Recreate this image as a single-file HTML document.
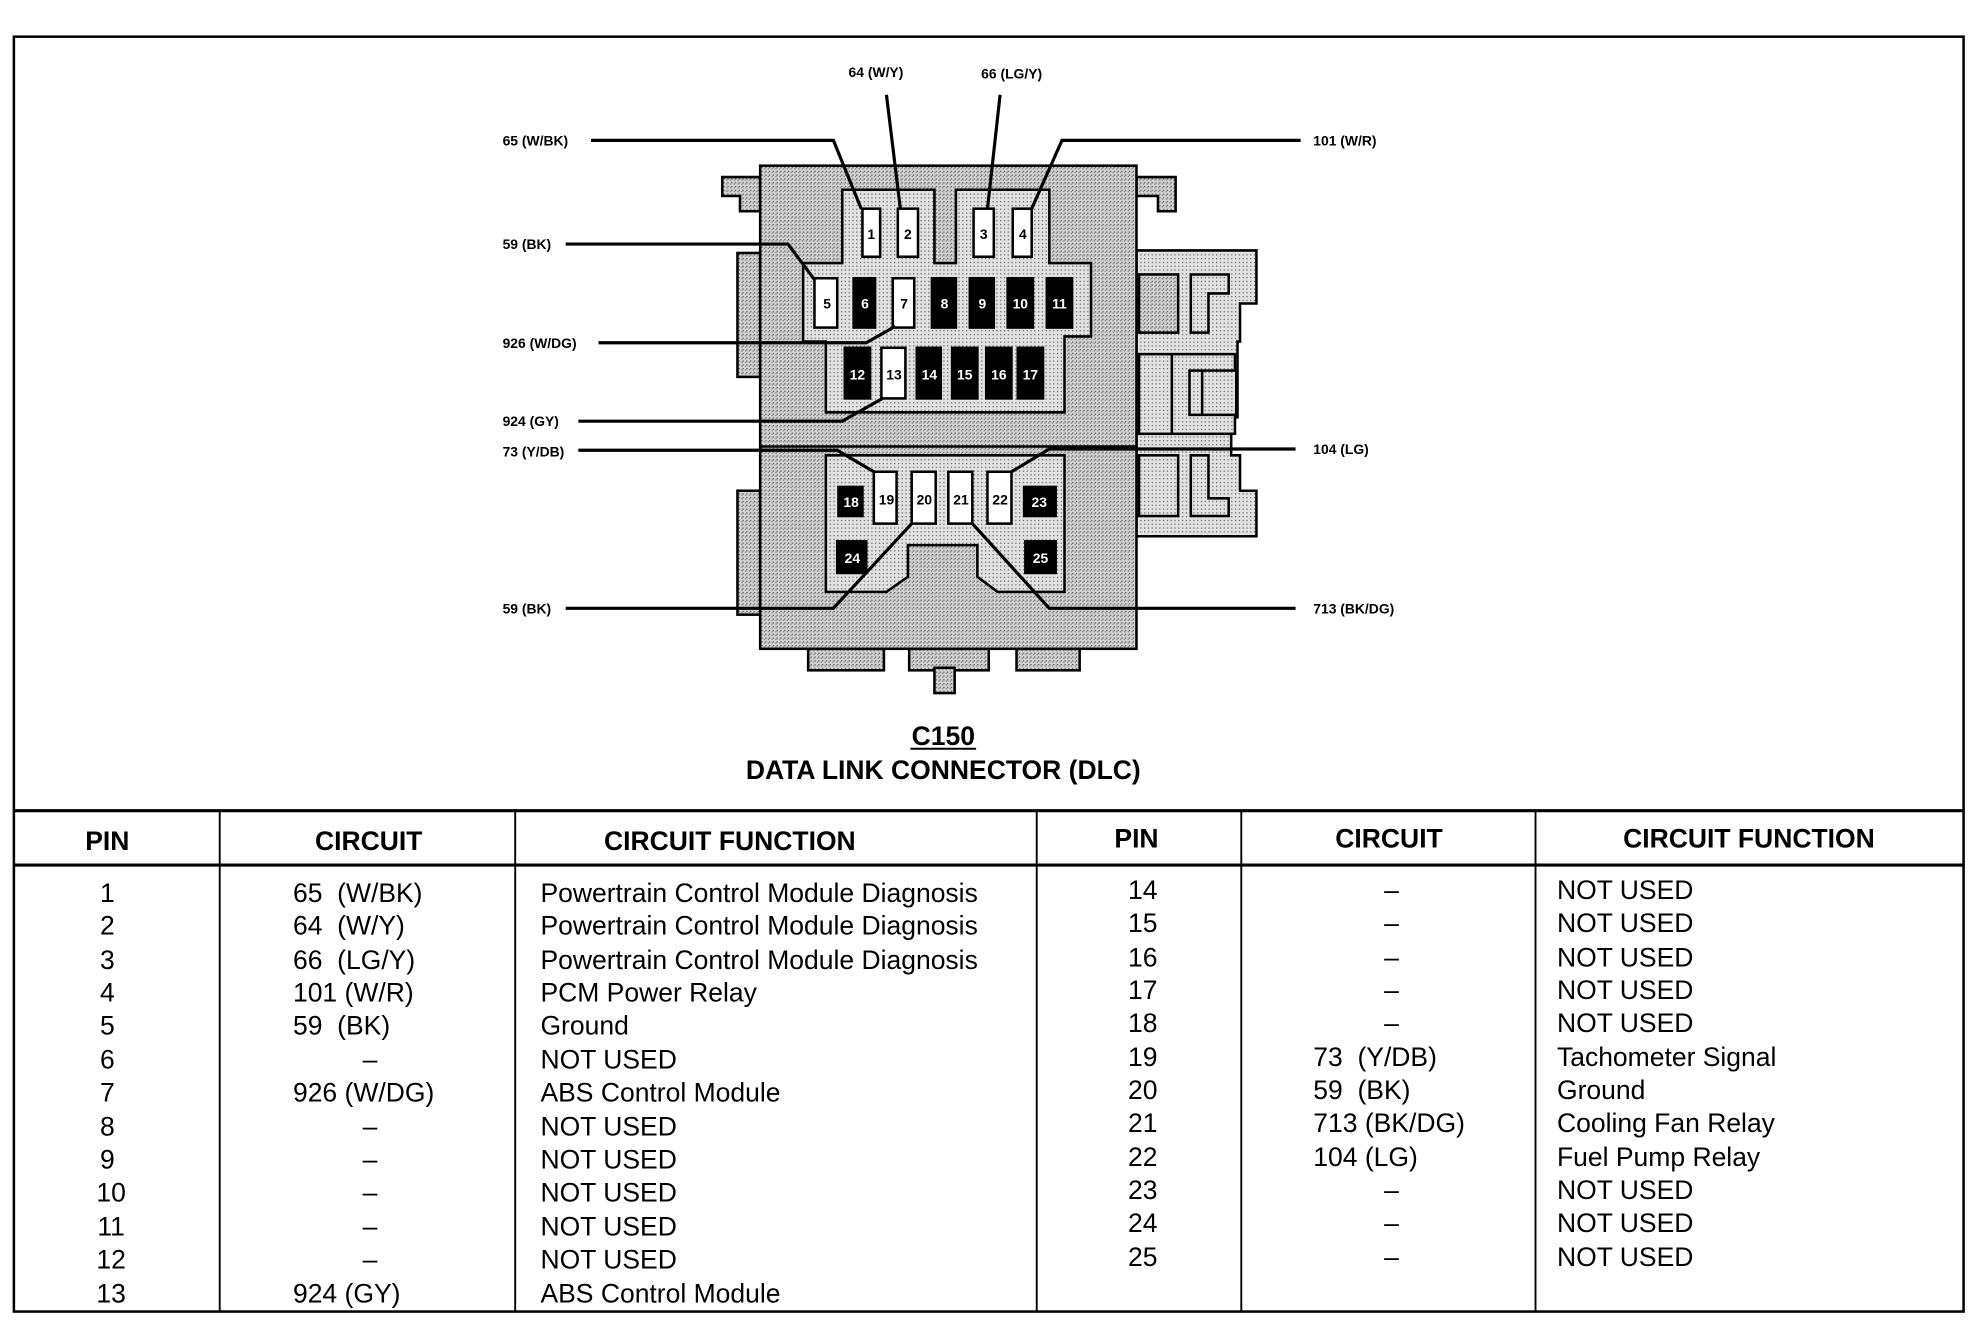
<!DOCTYPE html>
<html><head><meta charset="utf-8"><style>
html,body{margin:0;padding:0;background:#fff}
svg{display:block}
text{font-family:"Liberation Sans",sans-serif;white-space:pre}
.lb{font-size:11px;font-weight:bold}
.hd{font-size:21px;font-weight:bold}
.tx{font-size:21px}
.pw{font-size:11px;font-weight:bold;text-anchor:middle}
.w{fill:#fff}
</style></head><body>
<svg width="1980" height="1328" viewBox="0 0 1568 1050" preserveAspectRatio="none" xmlns="http://www.w3.org/2000/svg" xml:space="preserve">
<defs>
<pattern id="dk" width="3" height="3" patternUnits="userSpaceOnUse"><rect width="3" height="3" fill="#d4d4d4"/><rect width="1" height="1" fill="#555"/><rect x="2" y="1" width="1" height="1" fill="#777"/></pattern>
<pattern id="lt" width="3" height="3" patternUnits="userSpaceOnUse"><rect width="3" height="3" fill="#e2e2e2"/><rect width="1" height="1" fill="#666"/></pattern>
</defs>
<rect x="11" y="29" width="1544" height="1008" fill="none" stroke="#000" stroke-width="2"/>
<line x1="11" y1="641" x2="1555" y2="641" stroke="#000" stroke-width="2.5"/>
<line x1="11" y1="684" x2="1555" y2="684" stroke="#000" stroke-width="2.5"/>
<g stroke="#000" stroke-width="1.5">
<line x1="174" y1="641" x2="174" y2="1037"/><line x1="408" y1="641" x2="408" y2="1037"/>
<line x1="821" y1="641" x2="821" y2="1037"/><line x1="983" y1="641" x2="983" y2="1037"/>
<line x1="1216" y1="641" x2="1216" y2="1037"/>
</g>
<g stroke="#000" stroke-width="2">
<path d="M572,140 H602 V167 H586 V155 H572 Z" fill="url(#dk)"/>
<path d="M900,140 H931 V167 H917 V155 H900 Z" fill="url(#dk)"/>
<rect x="584" y="200" width="18" height="98" fill="url(#dk)"/>
<rect x="584" y="388" width="18" height="98" fill="url(#dk)"/>
<path d="M900,198 H995 V240 H982 V270 H980 V330 H975 V360 H982 V388 H995 V424 H900 Z" fill="url(#lt)"/>
<rect x="902" y="217" width="31" height="46" fill="url(#dk)"/>
<path d="M943,217 H973 V232 H957 V263 H943 Z" fill="url(#lt)"/>
<rect x="902" y="280" width="76" height="63" fill="url(#lt)"/>
<line x1="928" y1="280" x2="928" y2="343"/>
<rect x="942" y="293" width="37" height="35" fill="url(#lt)"/>
<line x1="952" y1="293" x2="952" y2="328"/>
<rect x="902" y="360" width="31" height="48" fill="url(#lt)"/>
<path d="M943,360 H957 V394 H973 V408 H943 Z" fill="url(#lt)"/>
<rect x="640" y="513" width="60" height="17" fill="url(#dk)"/>
<rect x="720" y="513" width="63" height="17" fill="url(#dk)"/>
<rect x="740" y="528" width="16" height="20" fill="url(#dk)"/>
<rect x="805" y="513" width="50" height="17" fill="url(#dk)"/>
<rect x="602" y="131" width="298" height="382" fill="url(#dk)"/>
<line x1="602" y1="353" x2="900" y2="353"/>
<path d="M667,150 H740 V208 H757 V150 H831 V208 H864 V266 H843 V326 H654 V270 H636 V208 H667 Z" fill="url(#lt)"/>
<path d="M654,360 H843 V468 H790 L774,456 V431 H719 V456 L702,468 H654 Z" fill="url(#lt)"/>
</g>
<g stroke="#000" stroke-width="2">
<rect x="683" y="165" width="14" height="38" fill="#fff"/>
<rect x="711" y="165" width="16" height="38" fill="#fff"/>
<rect x="771" y="165" width="16" height="38" fill="#fff"/>
<rect x="802" y="165" width="15" height="38" fill="#fff"/>
<rect x="645" y="220" width="18" height="39" fill="#fff"/>
<rect x="676" y="220" width="17" height="39" fill="#000"/>
<rect x="707" y="220" width="17" height="39" fill="#fff"/>
<rect x="738" y="220" width="19" height="39" fill="#000"/>
<rect x="768" y="220" width="19" height="39" fill="#000"/>
<rect x="798" y="220" width="20" height="39" fill="#000"/>
<rect x="829" y="220" width="20" height="39" fill="#000"/>
<rect x="669" y="275" width="20" height="40" fill="#000"/>
<rect x="698" y="275" width="19" height="40" fill="#fff"/>
<rect x="726" y="275" width="19" height="40" fill="#000"/>
<rect x="754" y="275" width="20" height="40" fill="#000"/>
<rect x="781" y="275" width="20" height="40" fill="#000"/>
<rect x="806" y="275" width="20" height="40" fill="#000"/>
<rect x="664" y="385" width="19" height="23" fill="#000"/>
<rect x="692" y="373" width="18" height="41" fill="#fff"/>
<rect x="722" y="373" width="19" height="41" fill="#fff"/>
<rect x="751" y="373" width="19" height="41" fill="#fff"/>
<rect x="782" y="373" width="19" height="41" fill="#fff"/>
<rect x="811" y="385" width="25" height="23" fill="#000"/>
<rect x="663" y="428" width="23" height="25" fill="#000"/>
<rect x="812" y="428" width="24" height="25" fill="#000"/>
</g>
<g class="pw">
<text x="690" y="189">1</text><text x="719" y="189">2</text><text x="779" y="189">3</text><text x="810" y="189">4</text>
<text x="655" y="244">5</text><text x="685" y="244" class="w">6</text><text x="716" y="244">7</text><text x="748" y="244" class="w">8</text><text x="778" y="244" class="w">9</text><text x="808" y="244" class="w">10</text><text x="839" y="244" class="w">11</text>
<text x="679" y="300" class="w">12</text><text x="708" y="300">13</text><text x="736" y="300" class="w">14</text><text x="764" y="300" class="w">15</text><text x="791" y="300" class="w">16</text><text x="816" y="300" class="w">17</text>
<text x="674" y="401" class="w">18</text><text x="702" y="399">19</text><text x="732" y="399">20</text><text x="761" y="399">21</text><text x="792" y="399">22</text><text x="823" y="401" class="w">23</text>
<text x="675" y="445" class="w">24</text><text x="824" y="445" class="w">25</text>
</g>
<g stroke="#000" stroke-width="2.5" fill="none">
<polyline points="468,111 660,111 682,165"/>
<polyline points="702,75 713,165"/>
<polyline points="792,75 782,165"/>
<polyline points="1030,111 841,111 817,165"/>
<polyline points="448,193 624,193 645,221"/>
<polyline points="474,271 686,271 709,258"/>
<polyline points="458,333 667,333 699,315"/>
<polyline points="458,356 663,356 692,373"/>
<polyline points="1026,355 831,355 801,373"/>
<polyline points="448,481 660,481 722,414"/>
<polyline points="1026,481 831,481 770,414"/>
</g>
<g class="lb">
<text x="398" y="115">65 (W/BK)</text>
<text x="672" y="61">64 (W/Y)</text>
<text x="777" y="62">66 (LG/Y)</text>
<text x="1040" y="115">101 (W/R)</text>
<text x="398" y="197">59 (BK)</text>
<text x="398" y="275">926 (W/DG)</text>
<text x="398" y="337">924 (GY)</text>
<text x="398" y="361">73 (Y/DB)</text>
<text x="1040" y="359">104 (LG)</text>
<text x="398" y="485">59 (BK)</text>
<text x="1040" y="485">713 (BK/DG)</text>
</g>
<text x="747" y="589" class="hd" text-anchor="middle">C150</text>
<line x1="721" y1="592" x2="773" y2="592" stroke="#000" stroke-width="1.5"/>
<text x="747" y="616" class="hd" text-anchor="middle">DATA LINK CONNECTOR (DLC)</text>
<g class="hd" text-anchor="middle">
<text x="85" y="672">PIN</text><text x="292" y="672">CIRCUIT</text><text x="578" y="672">CIRCUIT FUNCTION</text>
<text x="900" y="670">PIN</text><text x="1100" y="670">CIRCUIT</text><text x="1385" y="670">CIRCUIT FUNCTION</text>
</g>
<g class="tx">
<g text-anchor="middle">
<text x="85" y="713">1</text><text x="85" y="739">2</text><text x="85" y="766">3</text><text x="85" y="792">4</text><text x="85" y="818">5</text><text x="85" y="845">6</text><text x="85" y="871">7</text><text x="85" y="898">8</text><text x="85" y="924">9</text><text x="88" y="950">10</text><text x="88" y="977">11</text><text x="88" y="1003">12</text><text x="88" y="1030">13</text>
<text x="293" y="845">–</text><text x="293" y="898">–</text><text x="293" y="924">–</text><text x="293" y="950">–</text><text x="293" y="977">–</text><text x="293" y="1003">–</text>
<text x="905" y="711">14</text><text x="905" y="737">15</text><text x="905" y="764">16</text><text x="905" y="790">17</text><text x="905" y="816">18</text><text x="905" y="843">19</text><text x="905" y="869">20</text><text x="905" y="895">21</text><text x="905" y="922">22</text><text x="905" y="948">23</text><text x="905" y="974">24</text><text x="905" y="1001">25</text>
<text x="1102" y="711">–</text><text x="1102" y="737">–</text><text x="1102" y="764">–</text><text x="1102" y="790">–</text><text x="1102" y="816">–</text><text x="1102" y="948">–</text><text x="1102" y="974">–</text><text x="1102" y="1001">–</text>
</g>
<text x="232" y="713">65  (W/BK)</text><text x="232" y="739">64  (W/Y)</text><text x="232" y="766">66  (LG/Y)</text><text x="232" y="792">101 (W/R)</text><text x="232" y="818">59  (BK)</text><text x="232" y="871">926 (W/DG)</text><text x="232" y="1030">924 (GY)</text>
<text x="428" y="713">Powertrain Control Module Diagnosis</text><text x="428" y="739">Powertrain Control Module Diagnosis</text><text x="428" y="766">Powertrain Control Module Diagnosis</text><text x="428" y="792">PCM Power Relay</text><text x="428" y="818">Ground</text><text x="428" y="845">NOT USED</text><text x="428" y="871">ABS Control Module</text><text x="428" y="898">NOT USED</text><text x="428" y="924">NOT USED</text><text x="428" y="950">NOT USED</text><text x="428" y="977">NOT USED</text><text x="428" y="1003">NOT USED</text><text x="428" y="1030">ABS Control Module</text>
<text x="1040" y="843">73  (Y/DB)</text><text x="1040" y="869">59  (BK)</text><text x="1040" y="895">713 (BK/DG)</text><text x="1040" y="922">104 (LG)</text>
<text x="1233" y="711">NOT USED</text><text x="1233" y="737">NOT USED</text><text x="1233" y="764">NOT USED</text><text x="1233" y="790">NOT USED</text><text x="1233" y="816">NOT USED</text><text x="1233" y="843">Tachometer Signal</text><text x="1233" y="869">Ground</text><text x="1233" y="895">Cooling Fan Relay</text><text x="1233" y="922">Fuel Pump Relay</text><text x="1233" y="948">NOT USED</text><text x="1233" y="974">NOT USED</text><text x="1233" y="1001">NOT USED</text>
</g>
</svg>
</body></html>
